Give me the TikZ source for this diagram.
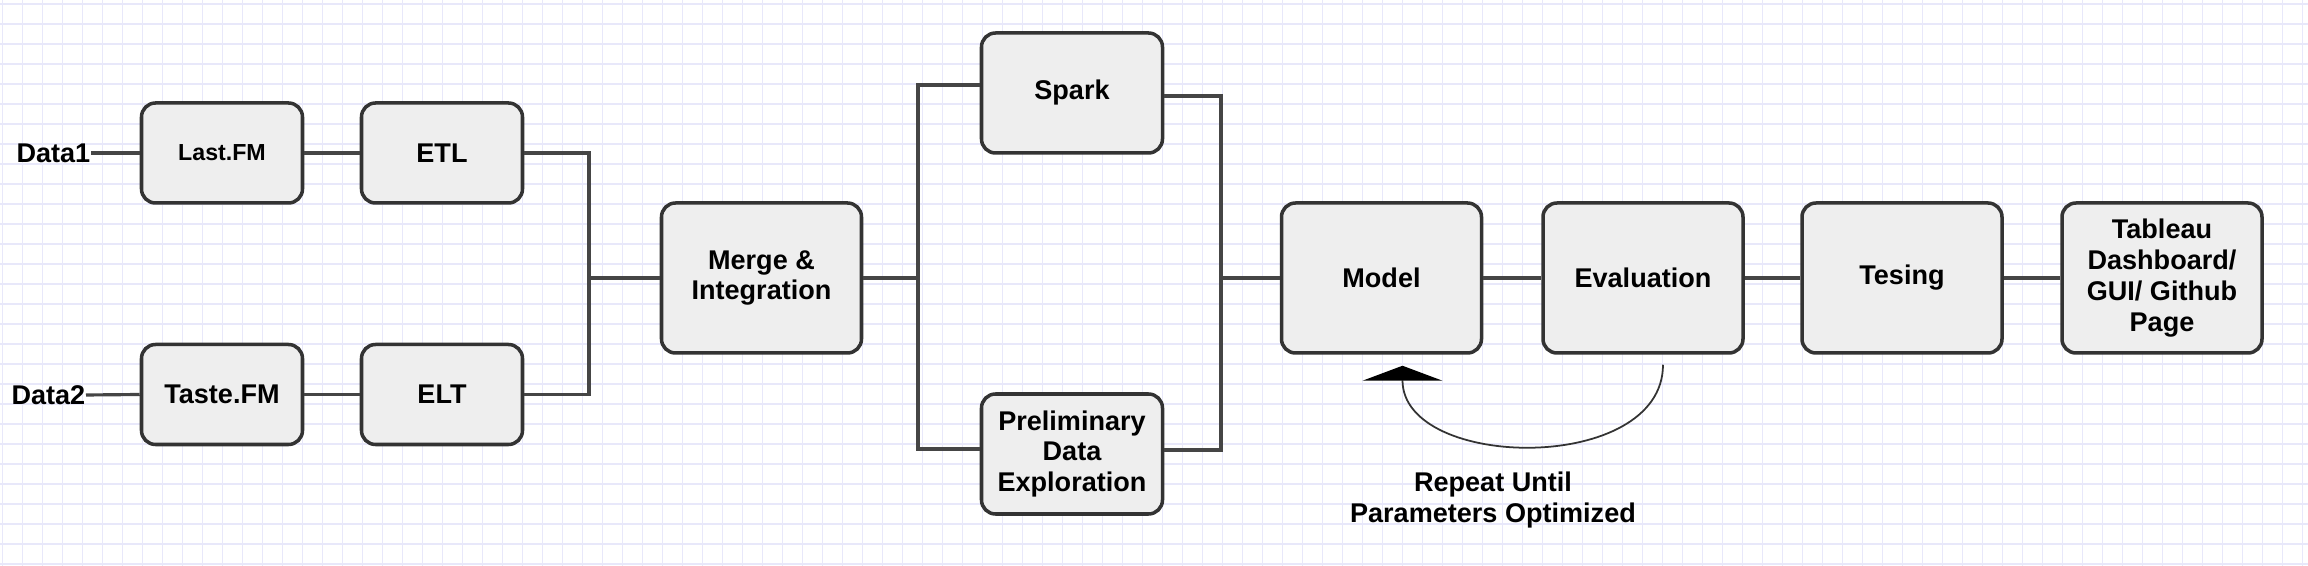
\documentclass[tikz,border=0pt]{standalone}
\usepackage{fontspec}
\setmainfont{Liberation Sans}
\usetikzlibrary{arrows.meta}
\definecolor{gridline}{HTML}{E8E8FA}
\definecolor{boxline}{HTML}{333333}
\definecolor{boxfill}{HTML}{EEEEEE}
\definecolor{linkc}{HTML}{454545}

\begin{document}
\begin{tikzpicture}[
    proc/.style={draw=boxline, fill=boxfill, line width=1pt, rounded corners=0.14cm, align=center, inner sep=1pt, font=\fontsize{7.7}{8.8}\selectfont\bfseries},
    srcbox/.style={proc, minimum width=1.61cm, minimum height=1cm},
    branchbox/.style={proc, minimum width=1.81cm, minimum height=1.2cm},
    stagebox/.style={proc, minimum width=2cm, minimum height=1.5cm},
    link/.style={draw=linkc, line width=0.9pt},
    lbl/.style={inner sep=0pt, font=\fontsize{7.7}{8.8}\selectfont\bfseries}]
            \useasboundingbox (0,0) rectangle (23.08,5.66);
            % background grid
            \begin{scope}
                \clip (0,0) rectangle (23.08,5.66);
                \draw[gridline, line width=0.45pt, step=0.2cm, shift={(0.027,0.02)}] (-0.4,-0.4) grid (23.4,5.8);
            \end{scope}
		    % sources
		    \node[lbl, anchor=east] (d1) at (0.91,4.13) {Data1};
		    \node[lbl, anchor=east] (d2) at (0.86,1.71) {Data2};
		    \node[srcbox, font=\fontsize{6.6}{8}\selectfont\bfseries] (lastfm) at (2.22,4.13) {Last.FM};
		    \node[srcbox] (etl) at (4.42,4.13) {ETL};
		    \node[srcbox] (tastefm) at (2.22,1.715) {Taste.FM};
		    \node[srcbox] (elt) at (4.42,1.715) {ELT};
		    % pipeline
		    \node[stagebox] (merge) at (7.615,2.88) {Merge \&\\Integration};
		    \node[branchbox] (spark) at (10.72,4.73) {Spark};
		    \node[branchbox] (explore) at (10.72,1.12) {Preliminary\\Data\\Exploration};
		    \node[stagebox] (model) at (13.815,2.88) {Model};
		    \node[stagebox] (eval) at (16.43,2.88) {Evaluation};
		    \node[stagebox] (test) at (19.02,2.88) {Tesing};
		    \node[stagebox] (tableau) at (21.62,2.88) {Tableau\\Dashboard/\\GUI/ Github\\Page};
		    \coordinate (j1) at (5.89,2.88);
		    \coordinate (j2) at (9.18,2.88);
		    \coordinate (j3) at (12.21,2.88);
		    % connectors
		    \draw[link] (d1.east) -- (lastfm.west);
		    \draw[link] (d2.east) -- (tastefm.west);
		    \draw[link] (lastfm) -- (etl);
		    \draw[link] (tastefm) -- (elt);
		    \draw[link] (etl.east) -| (j1) |- (elt.east);
		    \draw[link] (j1) -- (merge.west);
		    \draw[link] (merge.east) -- (j2);
		    \draw[link] ([yshift=0.08cm]spark.west) -| (j2) |- ([yshift=0.05cm]explore.west);
		    \draw[link] ([yshift=-0.03cm]spark.east) -| (j3) |- ([yshift=0.04cm]explore.east);
		    \draw[link] (j3) -- (model.west);
		    \foreach \a/\b in {model/eval, eval/test, test/tableau}
		    \draw[link] (\a) -- (\b);
		    % feedback loop
		    \draw[draw=boxline, line width=0.5pt, -{Triangle[width=0.8cm,length=0.15cm,color=black]}] ([xshift=0.2cm,yshift=-0.1cm]eval.south) .. controls +(0,-1.1) and +(0,-1.05) .. ([xshift=0.21cm,yshift=-0.11cm]model.south);
		    \node[lbl, align=center] (note) at (14.93,0.66) {Repeat Until\\Parameters Optimized};
        \end{tikzpicture}
\end{document}
